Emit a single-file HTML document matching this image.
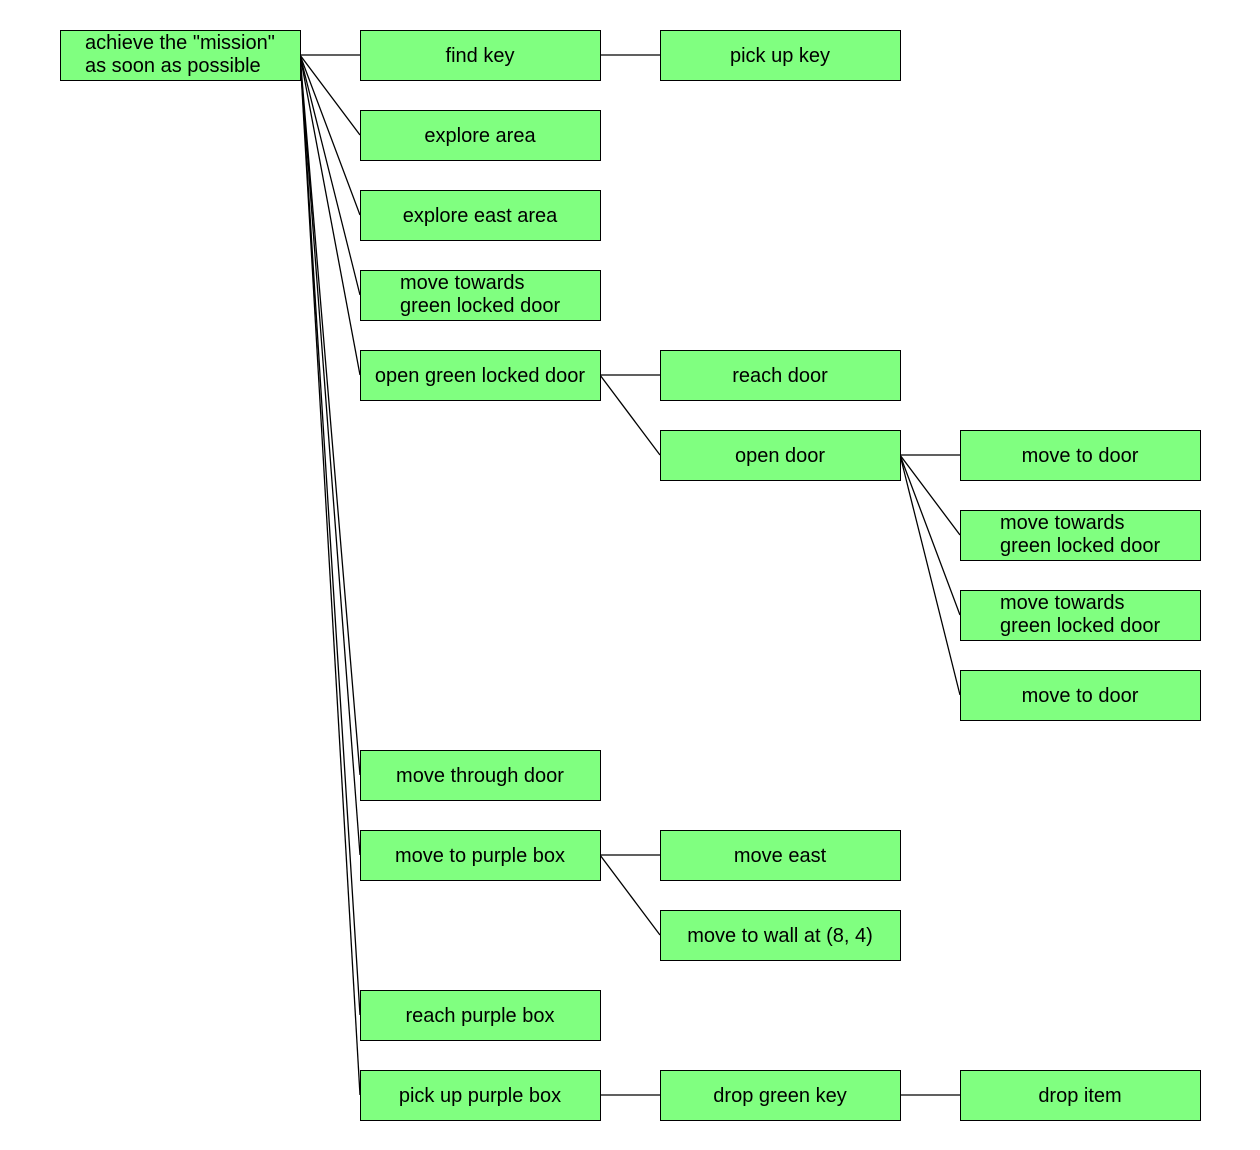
<!DOCTYPE html>
<html><head><meta charset="utf-8"><style>
html,body{margin:0;padding:0;background:#fff;}
svg{display:block;}
text{font-family:"Liberation Sans",Arial,sans-serif;font-size:20px;fill:#000;}
</style></head><body>
<svg width="1260" height="1150" viewBox="0 0 1260 1150" xmlns="http://www.w3.org/2000/svg">
<g stroke="#000" stroke-width="1.3" fill="none">
<line x1="300" y1="55" x2="360" y2="55"/>
<line x1="300" y1="55" x2="360" y2="135"/>
<line x1="300" y1="55" x2="360" y2="215"/>
<line x1="300" y1="55" x2="360" y2="295"/>
<line x1="300" y1="55" x2="360" y2="375"/>
<line x1="300" y1="55" x2="360" y2="775"/>
<line x1="300" y1="55" x2="360" y2="855"/>
<line x1="300" y1="55" x2="360" y2="1015"/>
<line x1="300" y1="55" x2="360" y2="1095"/>
<line x1="600" y1="55" x2="660" y2="55"/>
<line x1="600" y1="375" x2="660" y2="375"/>
<line x1="600" y1="375" x2="660" y2="455"/>
<line x1="900" y1="455" x2="960" y2="455"/>
<line x1="900" y1="455" x2="960" y2="535"/>
<line x1="900" y1="455" x2="960" y2="615"/>
<line x1="900" y1="455" x2="960" y2="695"/>
<line x1="600" y1="855" x2="660" y2="855"/>
<line x1="600" y1="855" x2="660" y2="935"/>
<line x1="600" y1="1095" x2="660" y2="1095"/>
<line x1="900" y1="1095" x2="960" y2="1095"/>
</g>
<g fill="#80ff80" stroke="#000" stroke-width="1">
<rect x="60.5" y="30.5" width="240" height="50"/>
<rect x="360.5" y="30.5" width="240" height="50"/>
<rect x="660.5" y="30.5" width="240" height="50"/>
<rect x="360.5" y="110.5" width="240" height="50"/>
<rect x="360.5" y="190.5" width="240" height="50"/>
<rect x="360.5" y="270.5" width="240" height="50"/>
<rect x="360.5" y="350.5" width="240" height="50"/>
<rect x="660.5" y="350.5" width="240" height="50"/>
<rect x="660.5" y="430.5" width="240" height="50"/>
<rect x="960.5" y="430.5" width="240" height="50"/>
<rect x="960.5" y="510.5" width="240" height="50"/>
<rect x="960.5" y="590.5" width="240" height="50"/>
<rect x="960.5" y="670.5" width="240" height="50"/>
<rect x="360.5" y="750.5" width="240" height="50"/>
<rect x="360.5" y="830.5" width="240" height="50"/>
<rect x="660.5" y="830.5" width="240" height="50"/>
<rect x="660.5" y="910.5" width="240" height="50"/>
<rect x="360.5" y="990.5" width="240" height="50"/>
<rect x="360.5" y="1070.5" width="240" height="50"/>
<rect x="660.5" y="1070.5" width="240" height="50"/>
<rect x="960.5" y="1070.5" width="240" height="50"/>
</g>
<g>
<text x="85" y="49">achieve the "mission"</text>
<text x="85" y="72">as soon as possible</text>
<text x="400" y="289">move towards</text>
<text x="400" y="312">green locked door</text>
<text x="1000" y="529">move towards</text>
<text x="1000" y="552">green locked door</text>
<text x="1000" y="609">move towards</text>
<text x="1000" y="632">green locked door</text>
</g>
<g text-anchor="middle">
<text x="480" y="62">find key</text>
<text x="780" y="62">pick up key</text>
<text x="480" y="142">explore area</text>
<text x="480" y="222">explore east area</text>
<text x="480" y="382">open green locked door</text>
<text x="780" y="382">reach door</text>
<text x="780" y="462">open door</text>
<text x="1080" y="462">move to door</text>
<text x="1080" y="702">move to door</text>
<text x="480" y="782">move through door</text>
<text x="480" y="862">move to purple box</text>
<text x="780" y="862">move east</text>
<text x="780" y="942">move to wall at (8, 4)</text>
<text x="480" y="1022">reach purple box</text>
<text x="480" y="1102">pick up purple box</text>
<text x="780" y="1102">drop green key</text>
<text x="1080" y="1102">drop item</text>
</g>
</svg>
</body></html>
